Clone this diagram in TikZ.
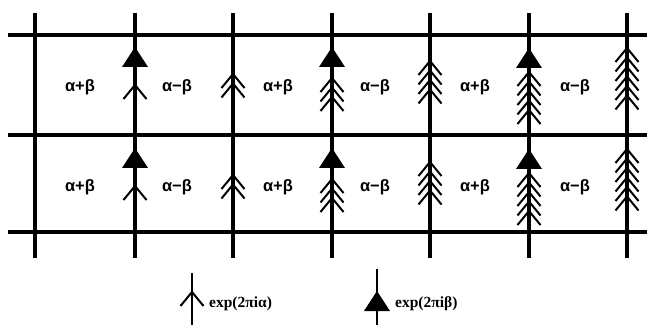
\documentclass[tikz,border=0pt]{standalone}
\usepackage{fontspec}
\setmainfont{Liberation Serif}
\newfontfamily\lblfont{Liberation Sans}
\newcommand\chevmark[2]{\draw[chev] ({#1-11.5},{#2+14}) -- (#1,#2) -- ({#1+11.5},{#2+14});}
\newcommand\trimark[2]{\fill ({#1},{#2}) -- ({#1-13},{#2+20}) -- ({#1+13},{#2+20}) -- cycle;}
\begin{document}
\begin{tikzpicture}[x=1pt,y=-1pt,
  gridline/.style={line width=3.6pt},
  chev/.style={line width=2pt},
  lab/.style={font=\lblfont\bfseries\fontsize{16.5}{18}\selectfont, inner sep=0pt},
  leg/.style={font=\bfseries\fontsize{15.5}{17}\selectfont, inner sep=0pt, anchor=west}]
\useasboundingbox (0,0) rectangle (647,331);
\foreach \y in {35,135,232} \draw[gridline] (8,\y) -- (647,\y);
\foreach \x in {35,135,233,332,430,529,627} \draw[gridline] (\x,13) -- (\x,258);
\foreach \r in {0,101}{
  % line 2
  \trimark{135}{47+\r}
  \chevmark{135}{85+\r}
  % line 3
  \foreach \c in {74,83.5} {\chevmark{233}{\c+\r}}
  % line 4
  \trimark{332}{47+\r}
  \foreach \c in {78,87.5,97} {\chevmark{332}{\c+\r}}
  % line 5
  \foreach \c in {61,70.5,80,89.5} {\chevmark{430}{\c+\r}}
  % line 6
  \trimark{529}{48+\r}
  \foreach \c in {72,81.5,91,100.5,110} {\chevmark{529}{\c+\r}}
  % line 7
  \foreach \c in {48,57.5,67,76.5,86,95.5} {\chevmark{627}{\c+\r}}
}
\node[lab] (l11) at (80,87) {α+β};
\node[lab] (l12) at (177,87) {α−β};
\node[lab] (l13) at (278,87) {α+β};
\node[lab] (l14) at (375,87) {α−β};
\node[lab] (l15) at (475,87) {α+β};
\node[lab] (l16) at (575,87) {α−β};
\node[lab] (l21) at (80,187) {α+β};
\node[lab] (l22) at (177,187) {α−β};
\node[lab] (l23) at (278,187) {α+β};
\node[lab] (l24) at (375,187) {α−β};
\node[lab] (l25) at (475,187) {α+β};
\node[lab] (l26) at (575,187) {α−β};
% legend
\draw[chev] (192,273) -- (192,325);
\chevmark{192}{292}
\node[leg] (ta) at (209,304) {exp(2πiα)};
\draw[chev] (377,269) -- (377,325);
\trimark{377}{291}
\node[leg] (tb) at (395,304) {exp(2πiβ)};
\end{tikzpicture}
\end{document}
